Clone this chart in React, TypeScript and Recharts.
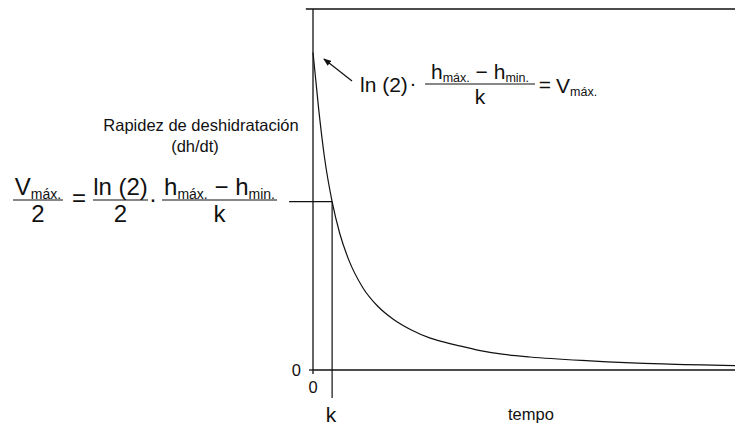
import React from "react";
import { LineChart, Line, XAxis, YAxis, ReferenceLine } from "recharts";

// dehydration rate over time (rate in % of V max., time in arbitrary units)
const tempo = [0, 0.6, 1.2, 2, 2.8, 3.7, 5.2, 6.8, 8.4, 10.3, 12.2, 15.2, 17.5, 20, 22.7, 29, 36.6, 45];
const rapidez = [100, 82, 67, 53, 43, 35, 26, 20, 16, 12.6, 10.1, 7.7, 6.1, 4.9, 4.1, 2.9, 1.9, 1.3];

const kTime = 2;
const vHalf = 53;
const yTop = 113.7;
const xTicks = [0];
const yTicks = [0];

const data = tempo.map((t, i) => ({ t, v: rapidez[i] }));

const FONT = "'Liberation Sans', Arial, sans-serif";
const INK = "#111";

type Piece = { t: string; sub?: boolean };

// one line of formula text, subscripts dropped a little and set smaller
function MathText({
  x,
  y,
  pieces,
  size,
  subSize,
  anchor = "middle",
}: {
  x: number;
  y: number;
  pieces: Piece[];
  size: number;
  subSize: number;
  anchor?: "start" | "middle" | "end";
}) {
  let cur = 0;
  return (
    <text x={x} y={y} textAnchor={anchor} fontSize={size} fill={INK} fontFamily={FONT} style={{ whiteSpace: "pre" }}>
      {pieces.map((p, i) => {
        const target = p.sub ? size * 0.16 : 0;
        const dy = target - cur;
        cur = target;
        return (
          <tspan key={i} dy={dy} fontSize={p.sub ? subSize : size}>
            {p.t}
          </tspan>
        );
      })}
    </text>
  );
}

function Fraction({
  cx,
  barY,
  x1,
  x2,
  num,
  den,
  size,
  subSize,
}: {
  cx: number;
  barY: number;
  x1: number;
  x2: number;
  num: Piece[];
  den: Piece[];
  size: number;
  subSize: number;
}) {
  return (
    <g>
      <MathText x={cx} y={barY - 5} pieces={num} size={size} subSize={subSize} />
      <line x1={x1} x2={x2} y1={barY} y2={barY} stroke={INK} strokeWidth={1.2} />
      <MathText x={cx} y={barY + 5 + size * 0.72} pieces={den} size={size} subSize={subSize} />
    </g>
  );
}

const hDiff: Piece[] = [{ t: "h" }, { t: "máx.", sub: true }, { t: " − " }, { t: "h" }, { t: "min.", sub: true }];

function Notes() {
  return (
    <svg width={735} height={419} style={{ position: "absolute", left: 0, top: 0, pointerEvents: "none" }}>
      <defs>
        <marker id="tip" markerWidth={8} markerHeight={6} refX={7} refY={3} orient="auto" markerUnits="userSpaceOnUse">
          <path d="M0,0 L8,3 L0,6 Z" fill={INK} />
        </marker>
      </defs>

      {/* y axis title */}
      <text x={193} y={123} textAnchor="middle" fontSize={16.5} fontFamily={FONT} fill={INK}>
        Rapidez de deshidratación
      </text>
      <text x={187} y={144} textAnchor="middle" fontSize={16.5} fontFamily={FONT} fill={INK}>
        (dh/dt)
      </text>

      {/* V max. / 2 = ln(2)/2 · (h max. - h min.)/k */}
      <Fraction cx={30} barY={192} x1={5} x2={55} num={[{ t: "V" }, { t: "máx.", sub: true }]} den={[{ t: "2" }]} size={24} subSize={14} />
      <text x={71} y={198} textAnchor="middle" fontSize={24} fontFamily={FONT} fill={INK}>
        =
      </text>
      <Fraction cx={112.5} barY={192} x1={85} x2={140} num={[{ t: "ln (2)" }]} den={[{ t: "2" }]} size={24} subSize={14} />
      <text x={145} y={199} textAnchor="middle" fontSize={24} fontFamily={FONT} fill={INK}>
        ·
      </text>
      <Fraction cx={211.5} barY={192} x1={154} x2={269} num={hDiff} den={[{ t: "k" }]} size={24} subSize={14} />

      {/* ln(2) · (h max. - h min.)/k = V max. */}
      <line x1={344} y1={73} x2={316} y2={51} stroke={INK} strokeWidth={1.2} markerEnd="url(#tip)" />
      <text x={352} y={84} fontSize={21} fontFamily={FONT} fill={INK}>
        ln (2)
      </text>
      <text x={405} y={82} textAnchor="middle" fontSize={21} fontFamily={FONT} fill={INK}>
        ·
      </text>
      <Fraction cx={472} barY={76} x1={417} x2={527} num={hDiff} den={[{ t: "k" }]} size={21} subSize={12.5} />
      <text x={537} y={84} textAnchor="middle" fontSize={21} fontFamily={FONT} fill={INK}>
        =
      </text>
      <MathText x={548} y={85} anchor="start" pieces={[{ t: "V" }, { t: "máx.", sub: true }]} size={21} subSize={12.5} />

      {/* axis annotations */}
      <text x={323} y={414} textAnchor="middle" fontSize={21} fontFamily={FONT} fill={INK}>
        k
      </text>
      <text x={500} y={412} fontSize={16.5} fontFamily={FONT} fill={INK}>
        tempo
      </text>
    </svg>
  );
}

export default function App() {
  return (
    <div style={{ position: "relative", width: 735, height: 419, fontFamily: FONT }}>
      <LineChart width={735} height={419} data={data} margin={{ top: 1, right: 0, left: 265, bottom: 27 }}>
        <XAxis
          type="number"
          dataKey="t"
          domain={[0, 45]}
          ticks={xTicks}
          height={30}
          tickSize={4}
          tickMargin={7}
          stroke={INK}
          strokeWidth={1.3}
          tick={{ fill: INK, fontSize: 16.5, fontFamily: FONT }}
        />
        <YAxis
          type="number"
          domain={[0, yTop]}
          ticks={yTicks}
          width={40}
          tickSize={4}
          tickMargin={8}
          stroke={INK}
          strokeWidth={1.3}
          tick={{ fill: INK, fontSize: 16.5, fontFamily: FONT }}
        />
        <ReferenceLine
          segment={[{ x: -0.75, y: yTop }, { x: 45, y: yTop }]}
          ifOverflow="visible"
          stroke={INK}
          strokeWidth={1.3}
        />
        <ReferenceLine
          segment={[{ x: -2.5, y: vHalf }, { x: kTime, y: vHalf }]}
          ifOverflow="visible"
          stroke={INK}
          strokeWidth={1.2}
        />
        <ReferenceLine
          segment={[{ x: kTime, y: vHalf }, { x: kTime, y: -8.8 }]}
          ifOverflow="visible"
          stroke={INK}
          strokeWidth={1.2}
        />
        <Line type="monotone" dataKey="v" stroke={INK} strokeWidth={1.2} dot={false} isAnimationActive={false} />
      </LineChart>
      <Notes />
    </div>
  );
}
